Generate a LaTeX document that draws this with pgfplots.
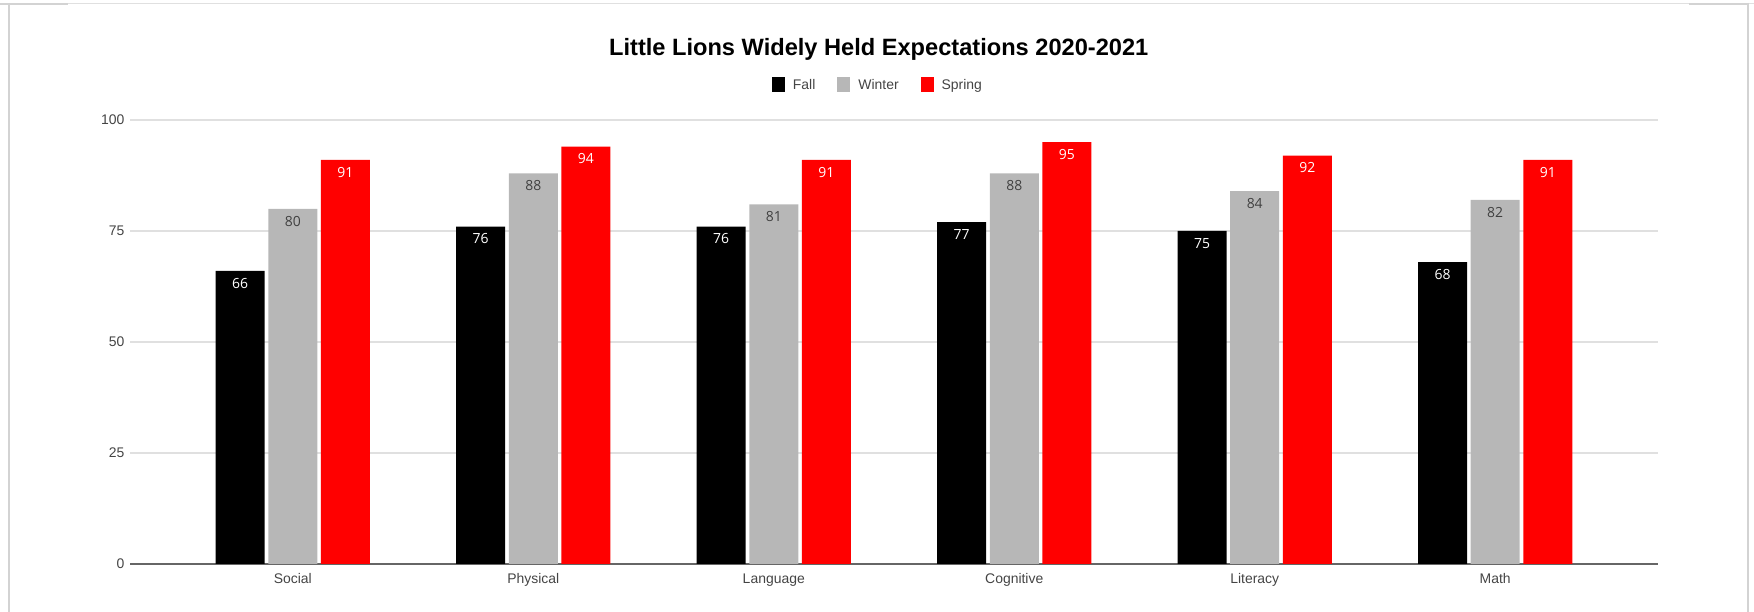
\documentclass[border=0pt]{standalone}
\usepackage{fontspec}
\setmainfont{Liberation Sans}
\newfontfamily\labelfont{Open Sans}
\usepackage{pgfplots}
\pgfplotsset{compat=1.18}
\definecolor{wintergray}{HTML}{B7B7B7}
\definecolor{springred}{HTML}{FF0000}
\definecolor{gridgray}{HTML}{E0E0E0}
\definecolor{ticktext}{HTML}{444444}
\definecolor{framegray}{HTML}{D3D3D3}
\definecolor{wlabel}{HTML}{404040}
\begin{document}
\begin{tikzpicture}[x=1bp,y=1bp]
\useasboundingbox (0,0) rectangle (1754,612);
% screenshot frame
\draw[gridgray, line width=1bp] (0,608.5) -- (1754,608.5);
\draw[framegray, line width=2bp] (0,608) -- (68,608);
\draw[framegray, line width=2bp] (1689,608) -- (1749,608);
\draw[framegray, line width=2bp] (9,609) -- (9,0);
\draw[framegray, line width=2bp] (1748,609) -- (1748,0);
\begin{axis}[
  at={(130bp,48bp)}, anchor=south west,
  scale only axis,
  width=1528bp, height=444bp,
  xmin=-0.677, xmax=5.677,
  ymin=0, ymax=100,
  ytick={0,25,50,75,100},
  xtick={0,1,2,3,4,5},
  xticklabels={Social,Physical,Language,Cognitive,Literacy,Math},
  axis x line*=bottom,
  axis y line*=left,
  y axis line style={draw=none},
  ymajorgrids,
  grid style={gridgray, line width=1.3bp},
  x axis line style={color=black!60, line width=1.5bp, -},
  major tick length=0pt,
  /pgf/number format/assume math mode=true,
  tick label style={font=\fontsize{14}{16}\selectfont, text=ticktext},
  yticklabel style={anchor=east, xshift=-2bp},
  xticklabel style={yshift=-6bp},
  ybar, bar width=49bp,
  title={\fontsize{23.7}{26}\selectfont\bfseries Little Lions Widely Held Expectations 2020-2021},
  title style={at={(0.49,1.1464)}, anchor=center},
  legend columns=3,
  legend style={draw=none, at={(0.4895,1.079)}, anchor=center,
    font=\fontsize{14}{16}\selectfont\color{ticktext},
    /tikz/every odd column/.append style={column sep=6bp},
    /tikz/every even column/.append style={column sep=20bp}},
  legend image code/.code={\fill[#1] (0bp,-7.5bp) rectangle (13bp,7.5bp);},
  nodes near coords={\pgfmathprintnumber{\pgfplotspointmeta}},
  every node near coord/.append style={anchor=north, yshift=-7bp, inner sep=0pt,
    font=\labelfont\fontsize{14}{16}\selectfont},
  clip=false,
]
\addplot[fill=black, draw=none, bar shift=-52.6bp,
  every node near coord/.append style={text=white}]
  coordinates {(0,66) (1,76) (2,76) (3,77) (4,75) (5,68)};
\addplot[fill=wintergray, draw=none, bar shift=0bp,
  every node near coord/.append style={text=wlabel}]
  coordinates {(0,80) (1,88) (2,81) (3,88) (4,84) (5,82)};
\addplot[fill=springred, draw=none, bar shift=52.6bp,
  every node near coord/.append style={text=white}]
  coordinates {(0,91) (1,94) (2,91) (3,95) (4,92) (5,91)};
\legend{Fall,Winter,Spring}
\end{axis}
\end{tikzpicture}
\end{document}
